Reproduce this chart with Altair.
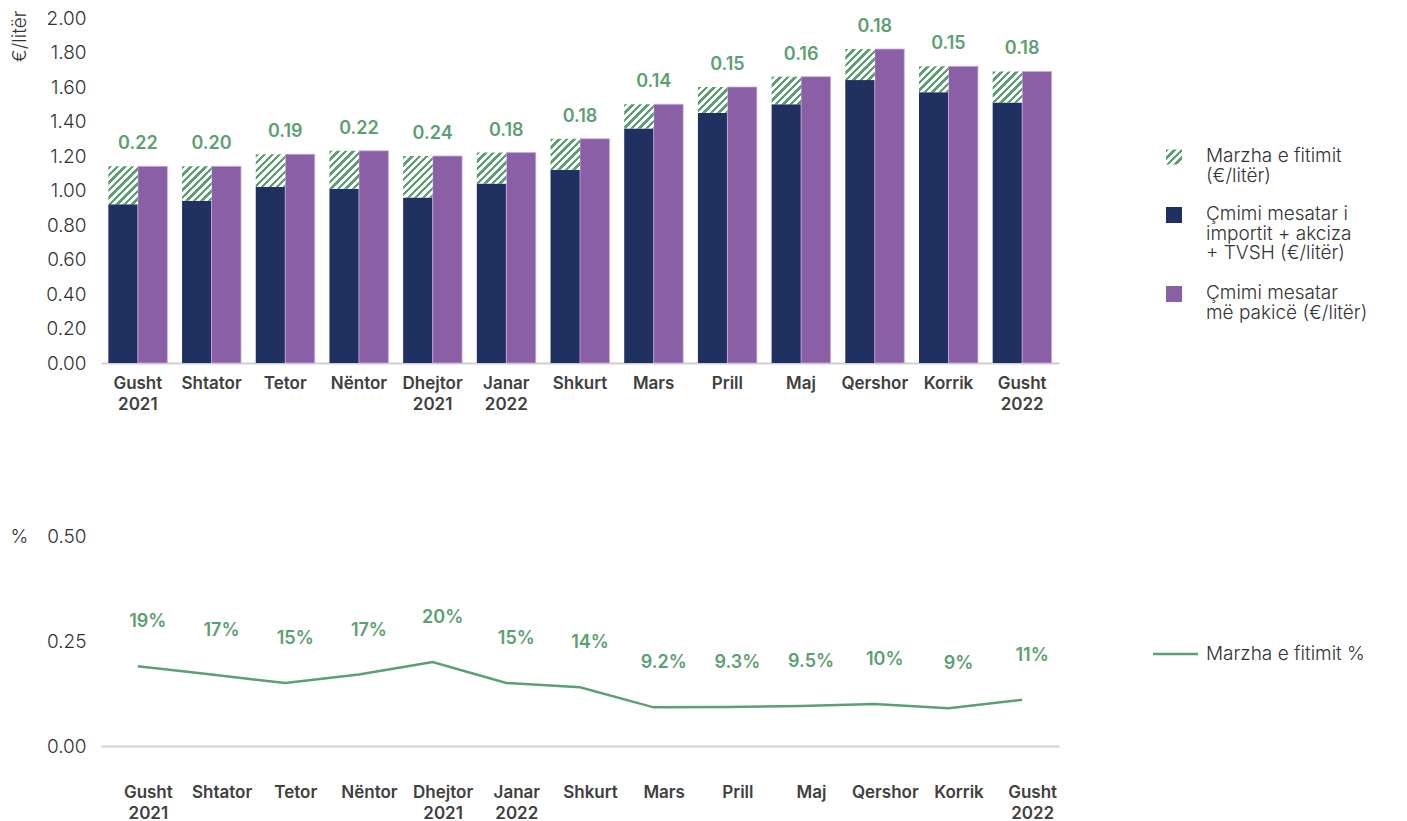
import math
import altair as alt
import pandas as pd

# ---------------- data ----------------
months = ["Gusht 2021", "Shtator", "Tetor", "Nëntor", "Dhejtor 2021", "Janar 2022",
          "Shkurt", "Mars", "Prill", "Maj", "Qershor", "Korrik", "Gusht 2022"]
retail_price = [1.14, 1.14, 1.21, 1.23, 1.20, 1.22, 1.30, 1.50, 1.60, 1.66, 1.82, 1.72, 1.69]
profit_margin = [0.22, 0.20, 0.19, 0.22, 0.24, 0.18, 0.18, 0.14, 0.15, 0.16, 0.18, 0.15, 0.18]
margin_pct = [0.19, 0.17, 0.15, 0.17, 0.20, 0.15, 0.14, 0.092, 0.093, 0.095, 0.10, 0.09, 0.11]
margin_pct_labels = ["19%", "17%", "15%", "17%", "20%", "15%", "14%", "9.2%", "9.3%", "9.5%",
                     "10%", "9%", "11%"]
y_ticks_top = [0.0, 0.2, 0.4, 0.6, 0.8, 1.0, 1.2, 1.4, 1.6, 1.8, 2.0]
y_ticks_bottom = [0.0, 0.25, 0.5]
legend_top = [["Marzha e fitimit", "(€/litër)"],
              ["Çmimi mesatar i", "importit + akciza", "+ TVSH (€/litër)"],
              ["Çmimi mesatar", "më pakicë (€/litër)"]]
legend_bottom = "Marzha e fitimit %"

# ---------------- styles ----------------
FONT = "Inter"
NAVY = "#203060"
PURPLE = "#8b5fa6"
GREEN = "#5c9f72"
TXT = "#333333"
AXIS_GRAY = "#d0d0d0"

W = 958
H_TOP = 345
H_BOT = 210
Y_MAX = 2.0
PAD_IN, PAD_OUT = 0.2, 0.1
step = W / (len(months) - PAD_IN + 2 * PAD_OUT)
sub_w = step * (1 - PAD_IN) / 2.0
px_per_unit = H_TOP / Y_MAX


def hatch(w, h, spacing=5.3, frac=0.45):
    """diagonal '///' stripes as a bbox linear gradient"""
    r = w / h
    dy = (r + 1) / (r * r + 1)
    dx = r * dy
    n = (w + h) / (math.sqrt(2) * spacing)
    stops = []
    k = 0
    while True:
        a = min(k / n, 1.0)
        b = min((k + frac) / n, 1.0)
        c = min((k + 1) / n, 1.0)
        stops += [{"offset": a, "color": GREEN}, {"offset": b, "color": GREEN},
                  {"offset": b, "color": "white"}, {"offset": c, "color": "white"}]
        k += 1
        if c >= 1.0:
            break
    return {"gradient": "linear", "x1": 0, "y1": 0, "x2": dx, "y2": dy, "stops": stops}


df = pd.DataFrame({
    "month": months,
    "retail": retail_price,
    "margin": profit_margin,
})
df["imp"] = df["retail"] - df["margin"]
df["margin_lbl"] = [f"{m:.2f}" for m in profit_margin]

xscale = alt.Scale(domain=months, paddingInner=PAD_IN, paddingOuter=PAD_OUT)
x_axis_top = alt.Axis(labelAngle=0, labelExpr="split(datum.label, ' ')",
                      labelFont=FONT, labelFontSize=17, labelFontWeight=600,
                      labelColor="#404040", labelPadding=12, labelLineHeight=21,
                      labelOverlap=False, ticks=False, domainColor=AXIS_GRAY, domainWidth=2)
off_scale = alt.Scale(domain=["a", "b"], paddingInner=0, paddingOuter=0)
yscale_top = alt.Scale(domain=[0, Y_MAX], nice=False)
y_axis_top = alt.Axis(values=y_ticks_top, format=".2f", tickCount=11,
                      grid=False, domain=False, ticks=False, labelPadding=15,
                      labelOverlap=False, labelBound=False,
                      labelFont=FONT, labelFontSize=19, labelFontWeight=300,
                      labelColor=TXT, title="€/litër", titleFont=FONT,
                      titleFontSize=19, titleFontWeight=300, titleColor=TXT,
                      titleAngle=-90, titleAlign="right", titleBaseline="middle",
                      titleX=-82, titleY=-8)


def X():
    return alt.X("month:N", sort=months, scale=xscale, title=None, axis=x_axis_top)


def Y(field):
    return alt.Y(field, scale=yscale_top, axis=y_axis_top, title="€/litër")


base = alt.Chart(df)
navy = base.mark_bar(color=NAVY).encode(
    x=X(), xOffset=alt.XOffset("s:N", scale=off_scale), y=Y("imp:Q")
).transform_calculate(s="'a'")
purple = base.mark_bar(color=PURPLE, stroke="#c4afd8", strokeWidth=0.8).encode(
    x=X(), xOffset=alt.XOffset("s:N", scale=off_scale), y=Y("retail:Q")
).transform_calculate(s="'b'")

hatch_layers = []
for m, mv in zip(months, profit_margin):
    hatch_layers.append(
        base.transform_filter(alt.datum.month == m).transform_calculate(s="'a'")
        .mark_bar(fill=hatch(sub_w, mv * px_per_unit))
        .encode(x=X(), xOffset=alt.XOffset("s:N", scale=off_scale),
                y=Y("imp:Q"), y2="retail:Q")
    )

labels_top = base.mark_text(font=FONT, fontSize=18, fontWeight=600, color=GREEN,
                            baseline="middle", dy=-22).encode(
    x=X(), y=Y("retail:Q"), text="margin_lbl:N")

# custom legend (top)
dummy = pd.DataFrame({"k": [0]})
leg_y = [139, 197, 276]
leg_layers = []
for lines, yy in zip(legend_top, leg_y):
    leg_layers.append(
        alt.Chart(dummy).mark_text(text=lines, font=FONT, fontSize=19, fontWeight=300,
                                   color=TXT, align="left", baseline="top", lineHeight=19.5)
        .encode(x=alt.value(1105), y=alt.value(yy - 10))
    )
for c, yy in [(NAVY, leg_y[1]), (PURPLE, leg_y[2])]:
    leg_layers.append(
        alt.Chart(dummy).mark_rect(color=c).encode(
            x=alt.value(1065), x2=alt.value(1081), y=alt.value(yy - 8), y2=alt.value(yy + 8))
    )
leg_layers.append(
    alt.Chart(dummy).mark_rect(fill=hatch(16, 15)).encode(
        x=alt.value(1065), x2=alt.value(1081), y=alt.value(leg_y[0] - 7.5),
        y2=alt.value(leg_y[0] + 7.5))
)

top = alt.layer(navy, purple, *hatch_layers, labels_top, *leg_layers).properties(
    width=W, height=H_TOP)

# ---------------- bottom chart ----------------
df2 = pd.DataFrame({"month": months, "pct": margin_pct, "lbl": margin_pct_labels})
x_bot = alt.X("month:N", sort=months, scale=alt.Scale(domain=months, padding=0.5), title=None,
              axis=alt.Axis(labelAngle=0, labelExpr="split(datum.label, ' ')",
                            labelFont=FONT, labelFontSize=17, labelFontWeight=600,
                            labelColor="#404040", labelPadding=38, labelLineHeight=21,
                            labelOffset=10, labelOverlap=False,
                            ticks=False, domainColor=AXIS_GRAY, domainWidth=2))
y_bot = alt.Y("pct:Q", scale=alt.Scale(domain=[0, 0.5], nice=False),
              axis=alt.Axis(values=y_ticks_bottom, format=".2f", grid=False, domain=False,
                            ticks=False, labelPadding=15, labelFont=FONT, labelFontSize=19,
                            labelFontWeight=300, labelColor=TXT, title="%", titleFont=FONT,
                            titleFontSize=19, titleFontWeight=300, titleColor=TXT,
                            titleAngle=0, titleAlign="center", titleBaseline="middle",
                            titleX=-82, titleY=0))
b2 = alt.Chart(df2)
line = b2.mark_line(color=GREEN, strokeWidth=2.5).encode(x=x_bot, y=y_bot)
pct_labels = b2.mark_text(font=FONT, fontSize=18, fontWeight=600, color=GREEN,
                          baseline="middle", dy=-44, dx=10).encode(
    x=alt.X("month:N", sort=months), y="pct:Q", text="lbl:N")
leg2_line = alt.Chart(pd.DataFrame({"k": [legend_bottom]})).mark_rule(
    color=GREEN, strokeWidth=2.5).encode(x=alt.value(1052), x2=alt.value(1097), y=alt.value(118))
leg2_text = alt.Chart(pd.DataFrame({"k": [legend_bottom]})).mark_text(
    font=FONT, fontSize=19, fontWeight=300, color=TXT, align="left", baseline="middle").encode(
    x=alt.value(1105), y=alt.value(118), text="k:N")

bottom = alt.layer(line, pct_labels, leg2_line, leg2_text).properties(width=W, height=H_BOT)

chart = alt.vconcat(top, bottom, spacing=115).properties(
    padding={"left": 2, "top": 1, "right": 5, "bottom": 5}
).configure(font=FONT).configure_view(strokeWidth=0, stroke="transparent")

chart.save("out.html", embed_options={"renderer": "svg", "actions": False})
